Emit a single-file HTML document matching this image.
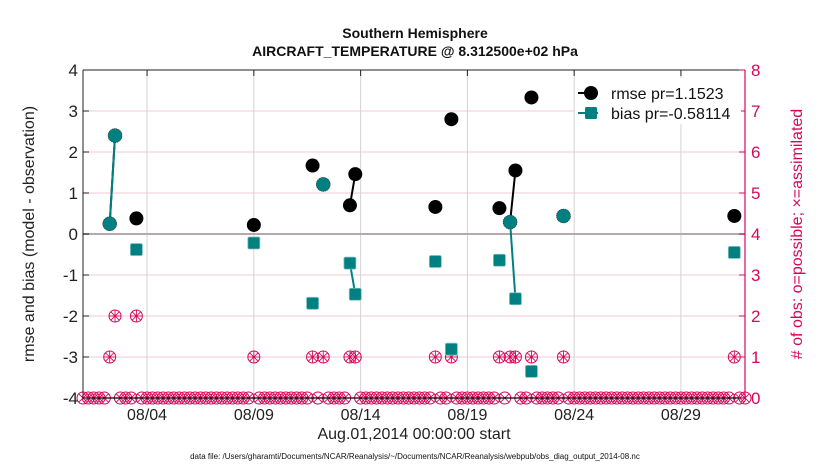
<!DOCTYPE html>
<html><head><meta charset="utf-8"><style>
body{margin:0;background:#fff;}
svg{display:block;font-family:"Liberation Sans",Arial,sans-serif;}
</style></head><body>
<svg id="chart" width="830" height="470" viewBox="0 0 830 470"></svg>
<script>
const days = [1.25, 1.5, 2.5, 8.0, 10.75, 11.25, 12.5, 12.75, 16.5, 17.25, 19.5, 20.0, 20.25, 21.0, 22.5, 30.5];
const rmse = [0.25, 2.40, 0.38, 0.22, 1.67, 1.21, 0.70, 1.46, 0.66, 2.80, 0.63, 0.29, 1.55, 3.33, 0.44, 0.44];
const bias = [0.25, 2.40, -0.38, -0.22, -1.69, 1.21, -0.71, -1.47, -0.67, -2.81, -0.64, 0.29, -1.58, -3.35, 0.44, -0.45];
const counts = [1, 2, 2, 1, 1, 1, 1, 1, 1, 1, 1, 1, 1, 1, 1, 1];
const xTickDays = [3, 8, 13, 18, 23, 28];
const xTickLabels = ["08/04", "08/09", "08/14", "08/19", "08/24", "08/29"];
const yTicks = [-4, -3, -2, -1, 0, 1, 2, 3, 4];
const y2Ticks = [0, 1, 2, 3, 4, 5, 6, 7, 8];

const NS = "http://www.w3.org/2000/svg";
const svg = document.getElementById("chart");
const L = 83, R = 745, T = 70, B = 398;
const X = d => L + (d / 31) * (R - L);
const Y = v => B - (v + 4) / 8 * (B - T);
const Y2 = c => B - c / 8 * (B - T);
const CR = "#d6075a", TEAL = "#008080";
function el(tag, attrs, parent) {
  const e = document.createElementNS(NS, tag);
  for (const k in attrs) e.setAttribute(k, attrs[k]);
  (parent || svg).appendChild(e);
  return e;
}
function txt(s, attrs, parent) { const t = el("text", attrs, parent); t.textContent = s; return t; }

const grid = el("g", {});


yTicks.forEach(v => el("line", {x1: L, x2: R, y1: Y(v), y2: Y(v), stroke: "#f0c8d6", "stroke-width": 1}, grid));
xTickDays.forEach(d => el("line", {x1: X(d), x2: X(d), y1: T, y2: B, stroke: "#d4d4d4", "stroke-width": 1}, grid));
const zl = el("line", {x1: L, x2: R, y1: Y(0), y2: Y(0), stroke: "#b8a8ac", "stroke-width": 2});



const cg = el("g", {});


function countMarker(d, c) {
  const cx = X(d), cy = Y2(c), r = 6, k = r * 0.707;
  el("circle", {cx, cy, r, fill: "none", stroke: CR, "stroke-width": 1}, cg);
  el("line", {x1: cx - k, y1: cy - k, x2: cx + k, y2: cy + k, stroke: CR, "stroke-width": 0.9}, cg);
  el("line", {x1: cx - k, y1: cy + k, x2: cx + k, y2: cy - k, stroke: CR, "stroke-width": 0.9}, cg);
  if (c > 0) {
    el("line", {x1: cx - r, y1: cy, x2: cx + r, y2: cy, stroke: CR, "stroke-width": 0.9}, cg);
    el("line", {x1: cx, y1: cy - r, x2: cx, y2: cy + r, stroke: CR, "stroke-width": 0.9}, cg);
  }
}
for (let i = 0; i <= 124; i++) {
  const d = i * 0.25;
  if (days.some(x => Math.abs(x - d) < 1e-6)) continue;
  countMarker(d, 0);
}
el("line", {x1: L, x2: R, y1: B, y2: B, stroke: "#000", "stroke-width": 1.2});
days.forEach((d, i) => countMarker(d, counts[i]));

function seriesLines(vals, color, name) {
  const g = el("g", {});
  
  
  for (let i = 1; i < days.length; i++) {
    if (Math.abs(days[i] - days[i - 1] - 0.25) < 1e-6)
      el("line", {x1: X(days[i - 1]), y1: Y(vals[i - 1]), x2: X(days[i]), y2: Y(vals[i]), stroke: color, "stroke-width": 2}, g);
  }
}
seriesLines(rmse, "#000", "rmse-line");
seriesLines(bias, TEAL, "bias-line");

const rg = el("g", {});


days.forEach((d, i) => {
  const c = el("circle", {cx: X(d), cy: Y(rmse[i]), r: 7, fill: "#000"}, rg);
  
  
});
const bg = el("g", {});


days.forEach((d, i) => {
  let m;
  if (Math.abs(bias[i] - rmse[i]) < 0.01) {
    m = el("circle", {cx: X(d), cy: Y(bias[i]), r: 7, fill: TEAL, stroke: "#333", "stroke-width": 0.6, "stroke-dasharray": "1 1"}, bg);
  } else {
    m = el("rect", {x: X(d) - 6, y: Y(bias[i]) - 6, width: 12, height: 12, rx: 1.5, fill: TEAL, stroke: "#7fc0c0", "stroke-width": 0.8}, bg);
  }
  
  
});

el("line", {x1: L, x2: R, y1: T, y2: T, stroke: "#222", "stroke-width": 1});
el("line", {x1: L, x2: L, y1: T, y2: B, stroke: "#222", "stroke-width": 1});
el("line", {x1: R, x2: R, y1: T, y2: B, stroke: CR, "stroke-width": 1.2});
const yl = el("g", {});


yTicks.forEach(v => {
  el("line", {x1: L, x2: L + 6, y1: Y(v), y2: Y(v), stroke: "#222"}, yl);
  txt(String(v), {x: L - 5, y: Y(v) + 6, "text-anchor": "end", "font-size": 17, fill: "#222"}, yl);
});
const yr = el("g", {});


y2Ticks.forEach(v => {
  el("line", {x1: R - 6, x2: R, y1: Y2(v), y2: Y2(v), stroke: CR}, yr);
  txt(String(v), {x: R + 6, y: Y2(v) + 6, "font-size": 17, fill: CR}, yr);
});
const xl = el("g", {});


xTickDays.forEach((d, i) => {
  el("line", {x1: X(d), x2: X(d), y1: T, y2: T + 6, stroke: "#222"}, xl);
  txt(xTickLabels[i], {x: X(d), y: 420, "text-anchor": "middle", "font-size": 16, fill: "#222"}, xl);
});

const lg = el("g", {});


el("rect", {x: 575, y: 78, width: 166, height: 46, fill: "#fff"}, lg);
el("line", {x1: 578, x2: 598, y1: 93, y2: 93, stroke: "#000", "stroke-width": 2}, lg);
el("circle", {cx: 591, cy: 93, r: 7, fill: "#000"}, lg);
txt("rmse pr=1.1523", {x: 611, y: 99, "font-size": 16, fill: "#111"}, lg);
el("line", {x1: 578, x2: 598, y1: 113, y2: 113, stroke: TEAL, "stroke-width": 2}, lg);
el("rect", {x: 585, y: 107, width: 12, height: 12, rx: 1.5, fill: TEAL}, lg);
txt("bias pr=-0.58114", {x: 611, y: 119, "font-size": 16, fill: "#111"}, lg);
</script>
<div style="position:absolute;left:0;top:0;width:830px;height:470px;pointer-events:none;font-family:'Liberation Sans',Arial,sans-serif;">
  <div style="position:absolute;left:0;width:830px;top:24px;text-align:center;font-weight:bold;font-size:14px;line-height:18px;color:#111;">Southern Hemisphere<br>AIRCRAFT_TEMPERATURE @ 8.312500e+02 hPa</div>
  <div style="position:absolute;left:234px;width:360px;top:426px;text-align:center;font-size:16px;color:#222;">Aug.01,2014 00:00:00 start</div>
  <div style="position:absolute;left:0;width:830px;top:452px;text-align:center;font-size:8px;color:#111;">data file: /Users/gharamti/Documents/NCAR/Reanalysis/~/Documents/NCAR/Reanalysis/webpub/obs_diag_output_2014-08.nc</div>
  <div style="position:absolute;left:-170px;width:400px;top:224px;height:20px;line-height:20px;text-align:center;font-size:16px;color:#222;transform:rotate(-90deg);">rmse and bias (model - observation)</div>
  <div style="position:absolute;left:598px;width:400px;top:224px;height:20px;line-height:20px;text-align:center;font-size:16px;color:#d6075a;transform:rotate(-90deg);"># of obs: o=possible; ×=assimilated</div>
</div>
</body></html>
